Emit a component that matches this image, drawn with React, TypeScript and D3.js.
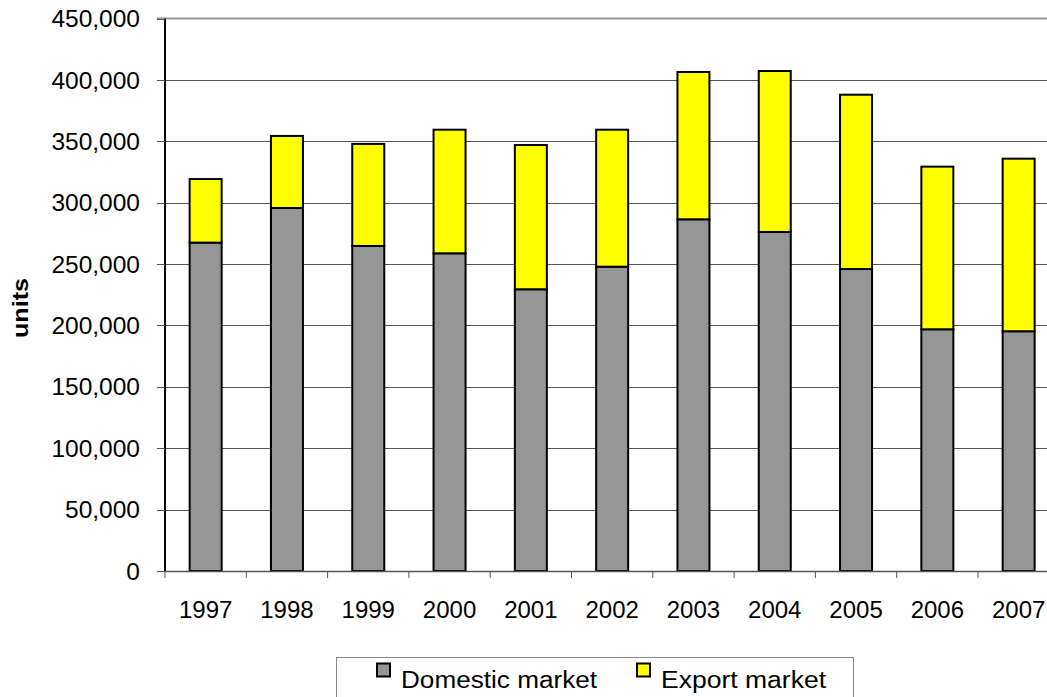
import React from "react";
import * as d3 from "d3";

const years = ["1997", "1998", "1999", "2000", "2001", "2002", "2003", "2004", "2005", "2006", "2007"];
const domestic = [267500, 295700, 264800, 258800, 229500, 247900, 286500, 276200, 246000, 196900, 195300];
const exportMkt = [51800, 58700, 83100, 100700, 117500, 111600, 120000, 131100, 142000, 132500, 140600];
const yTicks = [0, 50000, 100000, 150000, 200000, 250000, 300000, 350000, 400000, 450000];
const seriesNames = ["Domestic market", "Export market"];
const seriesColors = ["#969696", "#ffff00"];

const W = 1047;
const H = 697;
const left = 165;
const step = 81.3;
const top = 18.6;
const bottom = 571;
const FONT = "Arial, 'Liberation Sans', Helvetica, sans-serif";

export default function App() {
  const x = d3.scaleBand<string>().domain(years).range([left, left + step * years.length]).paddingInner(0).paddingOuter(0);
  const y = d3.scaleLinear().domain([0, 450000]).range([bottom, top]);
  const fmt = d3.format(",");
  const stackData = years.map((yr, i) => ({ year: yr, d: domestic[i], e: exportMkt[i] }));
  const stack = d3.stack<any>().keys(["d", "e"])(stackData);
  const barW = 32;
  const right = left + step * years.length;
  const legendLens = [196, 165];

  return (
    <svg width={W} height={H} style={{ position: "absolute", left: 0, top: 0, background: "#fff" }} fontFamily={FONT}>
      {/* gridlines */}
      {yTicks.filter(t => t > 0 && t < 450000).map(t => (
        <line key={t} x1={left - 8} x2={right} y1={Math.round(y(t)) + 0.5} y2={Math.round(y(t)) + 0.5} stroke="#555" strokeWidth={1} />
      ))}
      {/* top border */}
      <line x1={left - 8} x2={right} y1={y(450000)} y2={y(450000)} stroke="#999" strokeWidth={2} />
      {/* bars */}
      {stack.map((s, si) => (
        <g key={si}>
          {s.map((seg, i) => (
            <rect key={i} x={(x(years[i]) as number) + x.bandwidth() / 2 - barW / 2} y={y(seg[1])} width={barW} height={y(seg[0]) - y(seg[1])}
              fill={seriesColors[si]} stroke="#000" strokeWidth={2} />
          ))}
        </g>
      ))}
      {/* y axis */}
      <line x1={left} x2={left} y1={top} y2={bottom} stroke="#000" strokeWidth={2} />
      {yTicks.map(t => (
        <g key={t}>
          <line x1={left - 8} x2={left} y1={Math.round(y(t)) + 0.5} y2={Math.round(y(t)) + 0.5} stroke="#555" />
          <text x={140} y={y(t)} dy="0.35em" textAnchor="end" fontSize={24.5} fill="#000">{fmt(t)}</text>
        </g>
      ))}
      {/* x axis */}
      <line x1={left} x2={right} y1={bottom + 0.5} y2={bottom + 0.5} stroke="#555" strokeWidth={1.5} />
      {years.map((yr, i) => (
        <g key={yr}>
          <line x1={left + step * i} x2={left + step * i} y1={bottom} y2={bottom + 7} stroke="#555" />
          <text x={(x(yr) as number) + x.bandwidth() / 2} y={618} textAnchor="middle" fontSize={24} fill="#000">{yr}</text>
        </g>
      ))}
      {/* axis title */}
      <text transform={`translate(28,308) rotate(-90)`} textAnchor="middle" fontSize={22} fontWeight="bold" fill="#000"
        textLength={60} lengthAdjust="spacingAndGlyphs">units</text>
      {/* legend */}
      <rect x={336.5} y={657.5} width={517} height={60} fill="#fff" stroke="#888" strokeWidth={1} />
      {seriesNames.map((n, i) => {
        const lx = i === 0 ? 377 : 637;
        return (
          <g key={n}>
            <rect x={lx} y={663.5} width={13} height={13} fill={seriesColors[i]} stroke="#000" strokeWidth={2} />
            <text x={lx + 24} y={688} fontSize={23} fill="#000" textLength={legendLens[i]} lengthAdjust="spacingAndGlyphs">{n}</text>
          </g>
        );
      })}
    </svg>
  );
}
